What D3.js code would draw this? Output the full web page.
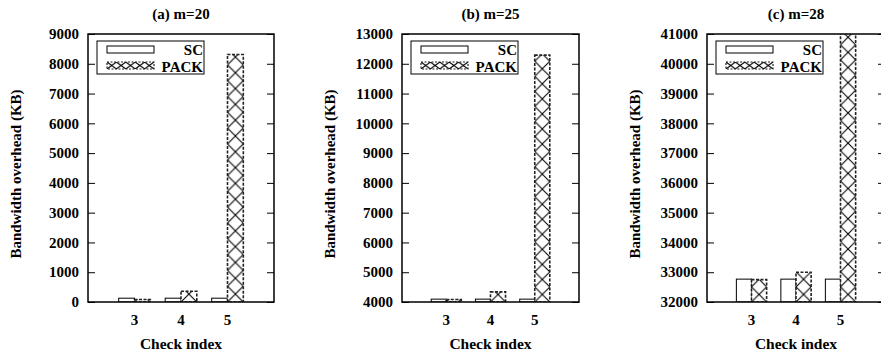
<!DOCTYPE html>
<html>
<head>
<meta charset="utf-8">
<script src="https://cdn.jsdelivr.net/npm/d3@7"></script>
<style>
  body { margin: 0; background: #fff; }
  svg { display: block; font-family: "Liberation Serif", "Times New Roman", serif; font-weight: bold; }
</style>
</head>
<body>
<div id="chart"></div>
<script>
// data
const checkIndex = [3, 4, 5];
const titles = ["(a) m=20", "(b) m=25", "(c) m=28"];
const yDomains = [[0, 9000], [4000, 13000], [32000, 41000]];
const scValues = [
  [128, 128, 128],
  [4096, 4096, 4096],
  [32768, 32768, 32768]
];
const packValues = [
  [85, 360, 8310],
  [4085, 4340, 12290],
  [32750, 33000, 41500]
];
const seriesNames = ["SC", "PACK"];

const W = 881, H = 356;
const frames = [
  { left: 88, right: 274 },
  { left: 402, right: 579 },
  { left: 707, right: 885 }
];
const plotTop = 34, plotBottom = 302;

const svg = d3.select("#chart").append("svg")
  .attr("width", W).attr("height", H);
const defs = svg.append("defs");

// cross-hatch tile, anchored at the given box
function crossPattern(id, x, y, w, h) {
  const p = defs.append("pattern")
    .attr("id", id)
    .attr("patternUnits", "userSpaceOnUse")
    .attr("x", x).attr("y", y)
    .attr("width", w).attr("height", h);
  p.append("rect").attr("width", w).attr("height", h).attr("fill", "#fff");
  p.append("path")
    .attr("d", `M0,0L${w},${h}M${w},0L0,${h}`)
    .attr("stroke", "#000").attr("stroke-width", 1.1).attr("fill", "none");
  return `url(#${id})`;
}

frames.forEach((f, i) => {
  const x = d3.scaleLinear().domain([2, 6]).range([f.left, f.right]);
  const y = d3.scaleLinear().domain(yDomains[i]).range([plotBottom, plotTop]);
  const bw = (x(1) - x(0)) * 0.34;
  const g = svg.append("g");

  defs.append("clipPath").attr("id", "clip" + i)
    .append("rect")
    .attr("x", f.left).attr("y", plotTop)
    .attr("width", f.right - f.left).attr("height", plotBottom - plotTop);

  const bars = g.append("g").attr("clip-path", `url(#clip${i})`);

  // SC bars
  bars.selectAll("rect.sc")
    .data(checkIndex.map((c, j) => ({ c, v: scValues[i][j] })))
    .join("rect")
    .attr("class", "sc")
    .attr("x", d => x(d.c) - bw)
    .attr("y", d => y(d.v))
    .attr("width", bw)
    .attr("height", d => y(yDomains[i][0]) - y(d.v))
    .attr("fill", "#fff")
    .attr("stroke", "#000")
    .attr("stroke-width", 1);

  // PACK bars
  bars.selectAll("rect.pack")
    .data(checkIndex.map((c, j) => ({ c, v: packValues[i][j], j })))
    .join("rect")
    .attr("class", "pack")
    .attr("x", d => x(d.c))
    .attr("y", d => y(d.v))
    .attr("width", bw)
    .attr("height", d => y(yDomains[i][0]) - y(d.v))
    .attr("fill", d => crossPattern(`p${i}_${d.j}`, x(d.c), plotBottom, bw, bw))
    .attr("stroke", "#222")
    .attr("stroke-width", 1.6)
    .attr("stroke-dasharray", "3,1.5");

  // y axes, ticks inward on both sides
  const ticks = d3.range(yDomains[i][0], yDomains[i][1] + 1, 1000);
  const left = g.append("g")
    .attr("transform", `translate(${f.left},0)`)
    .call(d3.axisRight(y).tickValues(ticks).tickSize(7).tickFormat(""));
  left.select(".domain").remove();
  const right = g.append("g")
    .attr("transform", `translate(${f.right},0)`)
    .call(d3.axisLeft(y).tickValues(ticks).tickSize(7).tickFormat(""));
  right.select(".domain").remove();

  g.selectAll(".tick line").attr("stroke", "#000").attr("stroke-width", 1);

  g.append("g").selectAll("text")
    .data(ticks)
    .join("text")
    .attr("x", f.left - 9)
    .attr("y", d => y(d))
    .attr("dy", "0.35em")
    .attr("text-anchor", "end")
    .attr("font-size", 15)
    .text(d => d);

  // x tick labels
  g.append("g").selectAll("text")
    .data(checkIndex)
    .join("text")
    .attr("x", d => x(d))
    .attr("y", plotBottom + 23)
    .attr("text-anchor", "middle")
    .attr("font-size", 15)
    .text(d => d);

  // frame
  g.append("rect")
    .attr("x", f.left).attr("y", plotTop)
    .attr("width", f.right - f.left).attr("height", plotBottom - plotTop)
    .attr("fill", "none").attr("stroke", "#000").attr("stroke-width", 1.5);

  // titles and axis labels
  const cx = (f.left + f.right) / 2;
  g.append("text")
    .attr("x", cx).attr("y", 19)
    .attr("text-anchor", "middle")
    .attr("font-size", 15)
    .text(titles[i]);

  g.append("text")
    .attr("x", cx).attr("y", 349)
    .attr("text-anchor", "middle")
    .attr("font-size", 15.5)
    .text("Check index");

  g.append("text")
    .attr("transform", `translate(${f.left - 67},174) rotate(-90)`)
    .attr("text-anchor", "middle")
    .attr("font-size", 15)
    .text("Bandwidth overhead (KB)");

  // legend
  const lx = f.left + 9, ly = 41, lw = 107, lh = 33;
  const lg = g.append("g");
  lg.append("rect")
    .attr("x", lx).attr("y", ly).attr("width", lw).attr("height", lh)
    .attr("fill", "#fff").attr("stroke", "#000").attr("stroke-width", 1);
  lg.append("rect")
    .attr("x", lx + 10).attr("y", ly + 5).attr("width", 47).attr("height", 7)
    .attr("fill", "#fff").attr("stroke", "#000").attr("stroke-width", 1);
  lg.append("rect")
    .attr("x", lx + 10).attr("y", ly + 21).attr("width", 47).attr("height", 7)
    .attr("fill", crossPattern(`leg${i}`, lx + 10, ly + 21, 9.4, 7))
    .attr("stroke", "#222").attr("stroke-width", 1.2)
    .attr("stroke-dasharray", "2,1.5");
  lg.selectAll("text.leg")
    .data(seriesNames)
    .join("text")
    .attr("class", "leg")
    .attr("x", lx + lw - 1)
    .attr("y", (d, k) => ly + 14 + k * 17)
    .attr("text-anchor", "end")
    .attr("font-size", 15)
    .text(d => d);
});
</script>
</body>
</html>
